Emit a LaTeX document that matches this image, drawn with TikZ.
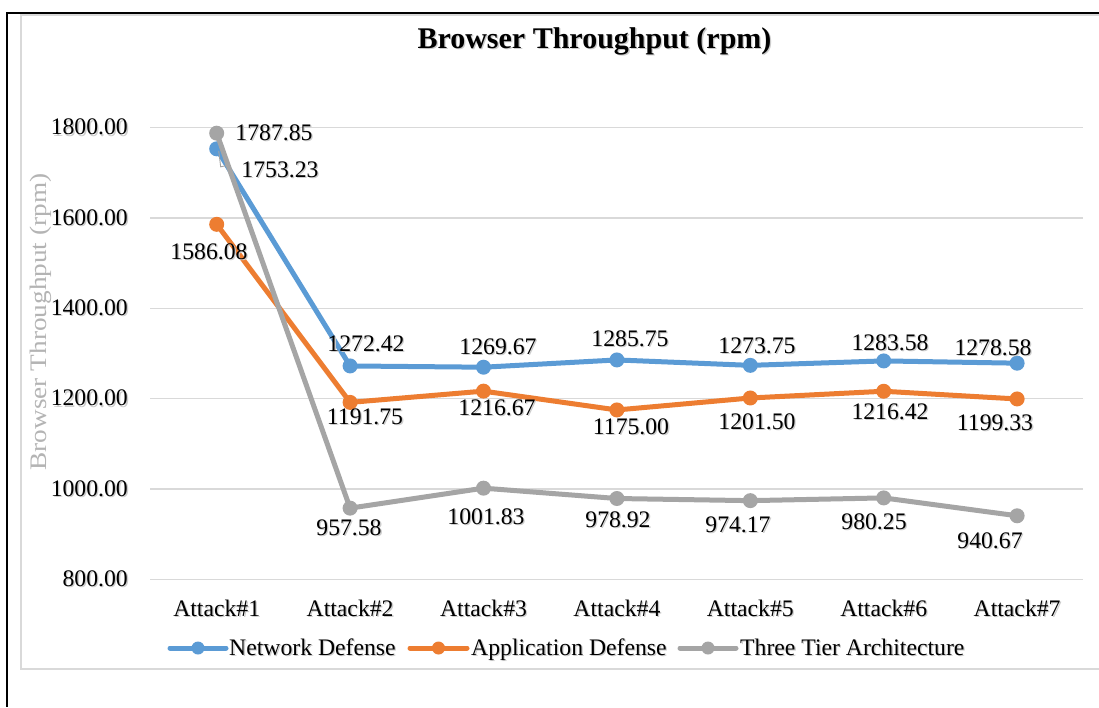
\documentclass[tikz,border=0pt]{standalone}
\usepackage{graphicx}
\usepackage{fontspec}
\setmainfont{Liberation Serif}
\usetikzlibrary{calc}
\definecolor{ndblue}{HTML}{5B9BD5}
\definecolor{adorange}{HTML}{ED7D31}
\definecolor{ttgray}{HTML}{A5A5A5}
\definecolor{gridgray}{HTML}{D9D9D9}
\definecolor{axtitle}{HTML}{B4B4B4}
% text with a soft drop shadow
\newcommand\shd[1]{\makebox[0pt][l]{\hspace{1.3pt}\raisebox{-1.3pt}{\color{black!20}#1}}#1}
\begin{document}
\begin{tikzpicture}[x=1pt,y=-1pt,
  lbl/.style={inner sep=0pt,font=\fontsize{23.7}{28}\selectfont},
  gridline/.style={draw=gridgray,line width=1.5pt},
  seriesline/.style={draw=#1,line width=5pt,line join=round,line cap=round},
  mk/.style={circle,fill=#1,inner sep=0pt,minimum size=15pt},
  legmk/.style={circle,fill=#1,inner sep=0pt,minimum size=13pt},
  leader/.style={draw=ttgray,line width=0.9pt},
]
% page and frames
\useasboundingbox (0,0) rectangle (1099,707);
\fill[white] (0,0) rectangle (1099,707);
\draw[gridgray,line width=2pt] (1099,14.8) -- (21,14.8) -- (21,669) -- (1099,669);
\draw[black,line width=2.3pt] (1099,12.8) -- (7,12.8) -- (7,707);

% title
\node[inner sep=0pt,font=\fontsize{30}{36}\selectfont\bfseries,anchor=base] (title) at (594.5,48.5) {\shd{Browser Throughput (rpm)}};

% horizontal grid and value axis
\foreach \v/\t in {800/800.00,1000/1000.00,1200/1200.00,1400/1400.00,1600/1600.00,1800/1800.00}{
  \coordinate (gl\v) at (150,{579.3-(\v-800)*0.4516});
  \coordinate (gr\v) at (1083,{579.3-(\v-800)*0.4516});
  \draw[gridline] (gl\v) -- (gr\v);
  \node[lbl,anchor=east] (tick\v) at ([xshift=-22pt]gl\v) {\shd{\t}};
}
\node[lbl,rotate=90,anchor=base,text=axtitle] (ytitle) at (46,322) {\scalebox{1.15}[1]{Browser Throughput (rpm)}};

% category axis
\foreach \i in {1,...,7}
  \node[lbl,anchor=base] (cat\i) at ({150+133.4*(\i-0.5)},616.5) {\shd{Attack\#\i}};

% data points
\foreach \i/\v in {1/1753.23,2/1272.42,3/1269.67,4/1285.75,5/1273.75,6/1283.58,7/1278.58}
  \coordinate (b\i) at ({150+133.4*(\i-0.5)},{579.3-(\v-800)*0.4516});
\foreach \i/\v in {1/1586.08,2/1191.75,3/1216.67,4/1175.00,5/1201.50,6/1216.42,7/1199.33}
  \coordinate (o\i) at ({150+133.4*(\i-0.5)},{579.3-(\v-800)*0.4516});
\foreach \i/\v in {1/1787.85,2/957.58,3/1001.83,4/978.92,5/974.17,6/980.25,7/940.67}
  \coordinate (g\i) at ({150+133.4*(\i-0.5)},{579.3-(\v-800)*0.4516});

% Network Defense
\draw[seriesline=ndblue] (b1) -- (b2) -- (b3) -- (b4) -- (b5) -- (b6) -- (b7);
\foreach \i in {1,...,7} \node[mk=ndblue] (bm\i) at (b\i) {};
% Application Defense
\draw[seriesline=adorange] (o1) -- (o2) -- (o3) -- (o4) -- (o5) -- (o6) -- (o7);
\foreach \i in {1,...,7} \node[mk=adorange] (om\i) at (o\i) {};
% Three Tier Architecture
\draw[seriesline=ttgray] (g1) -- (g2) -- (g3) -- (g4) -- (g5) -- (g6) -- (g7);
\foreach \i in {1,...,7} \node[mk=ttgray] (gm\i) at (g\i) {};

% data labels
\node[lbl] (bl1) at (280,170) {\shd{1753.23}};
\node[lbl] (bl2) at (366,344) {\shd{1272.42}};
\node[lbl] (bl3) at (498,347) {\shd{1269.67}};
\node[lbl] (bl4) at (630,339) {\shd{1285.75}};
\node[lbl] (bl5) at (757,346) {\shd{1273.75}};
\node[lbl] (bl6) at (890,343) {\shd{1283.58}};
\node[lbl] (bl7) at (993,348) {\shd{1278.58}};
\node[lbl] (ol1) at (209,252) {\shd{1586.08}};
\node[lbl] (ol2) at (365,417) {\shd{1191.75}};
\node[lbl] (ol3) at (497,408) {\shd{1216.67}};
\node[lbl] (ol4) at (631,427) {\shd{1175.00}};
\node[lbl] (ol5) at (757,422) {\shd{1201.50}};
\node[lbl] (ol6) at (890,412) {\shd{1216.42}};
\node[lbl] (ol7) at (995,423) {\shd{1199.33}};
\node[lbl] (gl1) at (274,133) {\shd{1787.85}};
\node[lbl] (gl2) at (349,528) {\shd{957.58}};
\node[lbl] (gl3) at (486,517) {\shd{1001.83}};
\node[lbl] (gl4) at (618,520) {\shd{978.92}};
\node[lbl] (gl5) at (738,525) {\shd{974.17}};
\node[lbl] (gl6) at (874,522) {\shd{980.25}};
\node[lbl] (gl7) at (990,541) {\shd{940.67}};
% leader line of the 1753.23 label
\draw[leader] ([shift={(2,2)}]bm1.center) -- ++(2,16) -- ++(7,-1.5);

% legend
\coordinate (lb0) at (170,648); \coordinate (lb1) at (226,648);
\coordinate (lo0) at (410,648); \coordinate (lo1) at (467,648);
\coordinate (lg0) at (680,648); \coordinate (lg1) at (736,648);
\draw[seriesline=ndblue] (lb0) -- (lb1);
\node[legmk=ndblue] (legbm) at ($(lb0)!0.5!(lb1)$) {};
\node[lbl,anchor=base west] (legb) at (229,655.5) {\shd{Network Defense}};
\draw[seriesline=adorange] (lo0) -- (lo1);
\node[legmk=adorange] (legom) at ($(lo0)!0.5!(lo1)$) {};
\node[lbl,anchor=base west] (lego) at (471,655.5) {\shd{Application Defense}};
\draw[seriesline=ttgray] (lg0) -- (lg1);
\node[legmk=ttgray] (leggm) at ($(lg0)!0.5!(lg1)$) {};
\node[lbl,anchor=base west] (legg) at (740,655.5) {\shd{Three Tier Architecture}};
\end{tikzpicture}
\end{document}
